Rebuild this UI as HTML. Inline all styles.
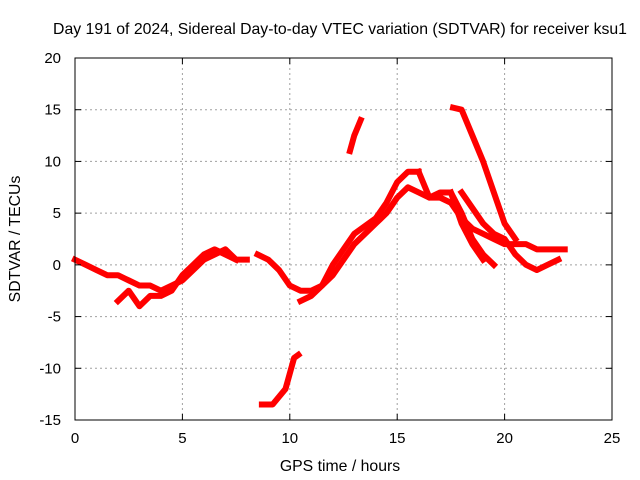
<!DOCTYPE html>
<html><head><meta charset="utf-8"><style>
body{margin:0;background:#fff}
svg{display:block;font-family:"Liberation Sans",sans-serif}
</style></head><body>
<svg id="chart" width="640" height="480" viewBox="0 0 640 480">
<text x="340" y="34" font-size="15.8" text-anchor="middle">Day 191 of 2024, Sidereal Day-to-day VTEC variation (SDTVAR) for receiver ksu1</text>
<g id="grid"></g><g id="marks"></g><g id="axes"></g>
<text x="340" y="471" font-size="15.8" text-anchor="middle">GPS time / hours</text>
<text transform="translate(20,239) rotate(-90)" font-size="15.8" text-anchor="middle">SDTVAR / TECUs</text>
</svg>
<script>
const xTicks=[0,5,10,15,20,25];
const yTicks=[-15,-10,-5,0,5,10,15,20];
const seriesA=[[0,0.5],[0.5,0],[1,-0.5],[1.5,-1],[2,-1],[2.5,-1.5],[3,-2],[3.5,-2],[4,-2.5],[4.5,-2],[5,-1.5],[5.5,-0.5],[6,0.5],[6.5,1],[7,1.5],[7.5,0.5],[8,0.5]];
const seriesB=[[8.5,1],[9,0.5],[9.5,-0.5],[10,-2],[10.5,-2.5],[11,-2.5],[11.5,-2],[12,-1],[12.5,0.5],[13,2],[13.5,3],[14,4],[14.5,5],[15,6.5],[15.5,7.5],[16,7],[16.5,6.5],[17,6.5],[17.5,6],[18,4.5],[18.5,3.5],[19,3],[19.5,2.5],[20,2],[20.5,2],[21,2],[21.5,1.5],[22,1.5],[22.5,1.5],[22.8,1.5]];
const seriesC=[[2,-3.5],[2.5,-2.5],[3,-4],[3.5,-3],[4,-3],[4.5,-2.5],[5,-1],[5.5,0],[6,1],[6.5,1.5],[7,1],[7.5,0.5]];
const seriesD=[[10.5,-3.5],[11,-3],[11.5,-2],[12,0],[12.5,1.5],[13,3],[14,4.5],[14.5,6],[15,8],[15.5,9],[16,9]];
const seriesE=[[16,9],[16.5,6.5],[17,7],[17.5,7],[18,5],[18.5,2.5],[19,1],[19.5,0]];
const seriesF=[[17.5,7],[18,4],[18.5,2],[19,0.5]];
const seriesG=[[18,7],[19,4],[19.5,3],[20,2.5],[20.5,1],[21,0],[21.5,-0.5],[22,0],[22.5,0.5]];
const seriesH=[[17.6,15.2],[18,15],[18.5,12.5],[19,10],[19.5,7],[20,4],[20.5,2.5]];
const seriesI=[[12.8,11],[13,12.5],[13.3,14]];
const seriesJ=[[8.7,-13.5],[9.2,-13.5],[9.8,-12],[10.2,-9],[10.4,-8.7]];
const allSeries=[seriesA,seriesB,seriesC,seriesD,seriesE,seriesF,seriesG,seriesH,seriesI,seriesJ];
const X0=75,X1=612,Y0=420,Y1=58;
const xs=v=>X0+(v-0)/25*(X1-X0);
const ys=v=>Y0-(v+15)/35*(Y0-Y1);
const NS="http://www.w3.org/2000/svg";
const grid=document.getElementById('grid'),axes=document.getElementById('axes'),marks=document.getElementById('marks');
function mk(tag,attrs,parent){const e=document.createElementNS(NS,tag);for(const k in attrs)e.setAttribute(k,attrs[k]);parent.appendChild(e);return e;}
xTicks.forEach(t=>{
 const x=xs(t);
 if(t>0&&t<25){const g=mk('line',{x1:x,x2:x,y1:Y1,y2:Y0,stroke:'#a0a0a0','stroke-dasharray':'2,3'},grid);
 
 }
 mk('line',{x1:x,x2:x,y1:Y0,y2:Y0-6,stroke:'#000'},axes);
 mk('line',{x1:x,x2:x,y1:Y1,y2:Y1+6,stroke:'#000'},axes);
 const l=mk('text',{x:x,y:443,'font-size':15,'text-anchor':'middle'},axes);l.textContent=t;
 
 
});
yTicks.forEach(t=>{
 const y=ys(t);
 if(t>-15&&t<20){const g=mk('line',{x1:X0,x2:X1,y1:y,y2:y,stroke:'#a0a0a0','stroke-dasharray':'2,3'},grid);
 
 }
 mk('line',{x1:X0,x2:X0+6,y1:y,y2:y,stroke:'#000'},axes);
 mk('line',{x1:X1,x2:X1-6,y1:y,y2:y,stroke:'#000'},axes);
 const l=mk('text',{x:X0-14,y:y+5,'font-size':15,'text-anchor':'end'},axes);l.textContent=t;
 
 
});
const f=mk('rect',{x:X0,y:Y1,width:X1-X0,height:Y0-Y1,fill:'none',stroke:'#000'},axes);


allSeries.forEach((s,i)=>{
 const p=mk('polyline',{points:s.map(d=>xs(d[0])+','+ys(d[1])).join(' '),fill:'none',stroke:'#ff0000','stroke-width':6,'stroke-linejoin':'round','stroke-linecap':'square'},marks);
 
 
});
</script>
</body></html>
